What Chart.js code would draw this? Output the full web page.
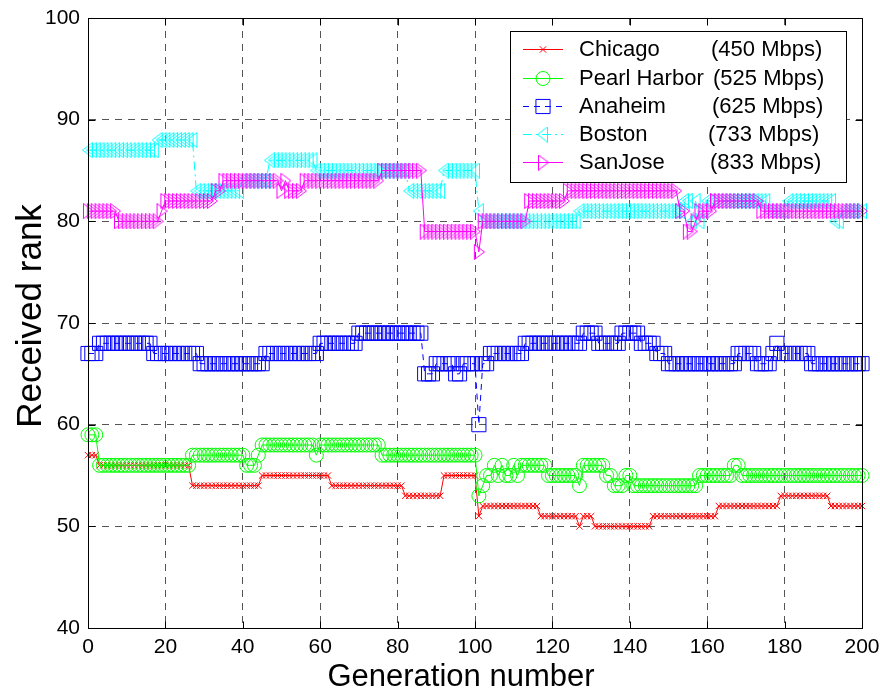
<!DOCTYPE html>
<html>
<head>
<meta charset="utf-8">
<script src="https://cdn.jsdelivr.net/npm/chart.js@4/dist/chart.umd.min.js"></script>
<style>
html, body { margin: 0; padding: 0; background: #fff; }
#wrap { width: 880px; height: 699px; }
</style>
</head>
<body>
<div id="wrap"><canvas id="rank_chart" width="880" height="699"></canvas></div>
<script>
// generation index on the x axis
var generations = [
    0, 1, 2, 3, 4, 5, 6, 7, 8, 9, 10, 11, 12, 13, 14, 15, 16, 17, 18, 19,
    20, 21, 22, 23, 24, 25, 26, 27, 28, 29, 30, 31, 32, 33, 34, 35, 36, 37, 38, 39,
    40, 41, 42, 43, 44, 45, 46, 47, 48, 49, 50, 51, 52, 53, 54, 55, 56, 57, 58, 59,
    60, 61, 62, 63, 64, 65, 66, 67, 68, 69, 70, 71, 72, 73, 74, 75, 76, 77, 78, 79,
    80, 81, 82, 83, 84, 85, 86, 87, 88, 89, 90, 91, 92, 93, 94, 95, 96, 97, 98, 99,
    100, 101, 102, 103, 104, 105, 106, 107, 108, 109, 110, 111, 112, 113, 114, 115, 116, 117, 118, 119,
    120, 121, 122, 123, 124, 125, 126, 127, 128, 129, 130, 131, 132, 133, 134, 135, 136, 137, 138, 139,
    140, 141, 142, 143, 144, 145, 146, 147, 148, 149, 150, 151, 152, 153, 154, 155, 156, 157, 158, 159,
    160, 161, 162, 163, 164, 165, 166, 167, 168, 169, 170, 171, 172, 173, 174, 175, 176, 177, 178, 179,
    180, 181, 182, 183, 184, 185, 186, 187, 188, 189, 190, 191, 192, 193, 194, 195, 196, 197, 198, 199,
    200
];

var chicagoRank = [
    57, 57, 57, 56, 56, 56, 56, 56, 56, 56, 56, 56, 56, 56, 56, 56, 56, 56, 56, 56,
    56, 56, 56, 56, 56, 56, 56, 54, 54, 54, 54, 54, 54, 54, 54, 54, 54, 54, 54, 54,
    54, 54, 54, 54, 54, 55, 55, 55, 55, 55, 55, 55, 55, 55, 55, 55, 55, 55, 55, 55,
    55, 55, 55, 54, 54, 54, 54, 54, 54, 54, 54, 54, 54, 54, 54, 54, 54, 54, 54, 54,
    54, 54, 53, 53, 53, 53, 53, 53, 53, 53, 53, 53, 55, 55, 55, 55, 55, 55, 55, 55,
    55, 51, 52, 52, 52, 52, 52, 52, 52, 52, 52, 52, 52, 52, 52, 52, 52, 51, 51, 51,
    51, 51, 51, 51, 51, 51, 51, 50, 51, 51, 51, 50, 50, 50, 50, 50, 50, 50, 50, 50,
    50, 50, 50, 50, 50, 50, 51, 51, 51, 51, 51, 51, 51, 51, 51, 51, 51, 51, 51, 51,
    51, 51, 51, 52, 52, 52, 52, 52, 52, 52, 52, 52, 52, 52, 52, 52, 52, 52, 52, 53,
    53, 53, 53, 53, 53, 53, 53, 53, 53, 53, 53, 53, 52, 52, 52, 52, 52, 52, 52, 52,
    52
];

var pearlHarborRank = [
    59, 59, 59, 56, 56, 56, 56, 56, 56, 56, 56, 56, 56, 56, 56, 56, 56, 56, 56, 56,
    56, 56, 56, 56, 56, 56, 56, 57, 57, 57, 57, 57, 57, 57, 57, 57, 57, 57, 57, 57,
    57, 56, 56, 56, 57, 58, 58, 58, 58, 58, 58, 58, 58, 58, 58, 58, 58, 58, 58, 57,
    58, 58, 58, 58, 58, 58, 58, 58, 58, 58, 58, 58, 58, 58, 58, 58, 57, 57, 57, 57,
    57, 57, 57, 57, 57, 57, 57, 57, 57, 57, 57, 57, 57, 57, 57, 57, 57, 57, 57, 57,
    57, 53, 54, 55, 55, 56, 55, 56, 55, 55, 56, 55, 56, 56, 56, 56, 56, 56, 56, 55,
    55, 55, 55, 55, 55, 55, 55, 54, 56, 56, 56, 56, 56, 56, 55, 55, 54, 54, 54, 55,
    55, 54, 54, 54, 54, 54, 54, 54, 54, 54, 54, 54, 54, 54, 54, 54, 54, 54, 55, 55,
    55, 55, 55, 55, 55, 55, 55, 56, 56, 55, 55, 55, 55, 55, 55, 55, 55, 55, 55, 55,
    55, 55, 55, 55, 55, 55, 55, 55, 55, 55, 55, 55, 55, 55, 55, 55, 55, 55, 55, 55,
    55
];

var anaheimRank = [
    67, 67, 67, 68, 68, 68, 68, 68, 68, 68, 68, 68, 68, 68, 68, 68, 68, 67, 67, 67,
    67, 67, 67, 67, 67, 67, 67, 67, 67, 66, 66, 66, 66, 66, 66, 66, 66, 66, 66, 66,
    66, 66, 66, 66, 66, 66, 67, 67, 67, 67, 67, 67, 67, 67, 67, 67, 67, 67, 67, 67,
    68, 68, 68, 68, 68, 68, 68, 68, 68, 68, 69, 69, 69, 69, 69, 69, 69, 69, 69, 69,
    69, 69, 69, 69, 69, 69, 69, 65, 65, 65, 66, 66, 66, 66, 66, 65, 65, 66, 66, 66,
    66, 60, 66, 66, 67, 67, 67, 67, 67, 67, 67, 67, 67, 68, 68, 68, 68, 68, 68, 68,
    68, 68, 68, 68, 68, 68, 68, 68, 69, 69, 69, 69, 68, 68, 68, 68, 68, 68, 69, 69,
    69, 69, 69, 68, 68, 68, 68, 67, 67, 67, 66, 66, 66, 66, 66, 66, 66, 66, 66, 66,
    66, 66, 66, 66, 66, 66, 66, 66, 67, 67, 67, 67, 67, 66, 66, 66, 66, 67, 68, 67,
    67, 67, 67, 67, 67, 67, 67, 66, 66, 66, 66, 66, 66, 66, 66, 66, 66, 66, 66, 66,
    66
];

var bostonRank = [
    87, 87, 87, 87, 87, 87, 87, 87, 87, 87, 87, 87, 87, 87, 87, 87, 87, 87, 88, 88,
    88, 88, 88, 88, 88, 88, 88, 88, 83, 83, 83, 83, 83, 83, 83, 83, 83, 83, 83, 83,
    84, 84, 84, 84, 84, 84, 84, 86, 86, 86, 86, 86, 86, 86, 86, 86, 86, 86, 86, 85,
    85, 85, 85, 85, 85, 85, 85, 85, 85, 85, 85, 85, 85, 85, 85, 85, 85, 85, 85, 85,
    85, 85, 85, 83, 83, 83, 83, 83, 83, 83, 83, 83, 85, 85, 85, 85, 85, 85, 85, 85,
    85, 81, 80, 80, 80, 80, 80, 80, 80, 80, 80, 80, 80, 80, 80, 80, 80, 80, 80, 80,
    80, 80, 80, 80, 80, 80, 80, 81, 81, 81, 81, 81, 81, 81, 81, 81, 81, 81, 81, 81,
    81, 81, 81, 81, 81, 81, 81, 81, 81, 81, 81, 81, 81, 81, 82, 82, 80, 82, 80, 81,
    82, 82, 82, 82, 82, 82, 82, 82, 82, 82, 82, 82, 82, 82, 82, 82, 81, 81, 81, 81,
    81, 82, 82, 82, 82, 82, 82, 82, 82, 82, 82, 82, 82, 80, 80, 81, 81, 81, 81, 81,
    81
];

var sanJoseRank = [
    81, 81, 81, 81, 81, 81, 81, 81, 80, 80, 80, 80, 80, 80, 80, 80, 80, 80, 80, 81,
    82, 82, 82, 82, 82, 82, 82, 82, 82, 82, 82, 82, 82, 83, 83, 84, 84, 84, 84, 84,
    84, 84, 84, 84, 84, 84, 84, 84, 84, 84, 83, 84, 83, 83, 83, 83, 84, 84, 84, 84,
    84, 84, 84, 84, 84, 84, 84, 84, 84, 84, 84, 84, 84, 84, 84, 84, 85, 85, 85, 85,
    85, 85, 85, 85, 85, 85, 85, 79, 79, 79, 79, 79, 79, 79, 79, 79, 79, 79, 79, 79,
    79, 77, 80, 80, 80, 80, 80, 80, 80, 80, 80, 80, 80, 80, 82, 82, 82, 82, 82, 82,
    82, 82, 82, 82, 83, 83, 83, 83, 83, 83, 83, 83, 83, 83, 83, 83, 83, 83, 83, 83,
    83, 83, 83, 83, 83, 83, 83, 83, 83, 83, 83, 83, 83, 81, 81, 79, 79, 80, 81, 81,
    81, 81, 82, 82, 82, 82, 82, 82, 82, 82, 82, 82, 82, 82, 81, 81, 81, 81, 81, 81,
    81, 81, 81, 81, 81, 81, 81, 81, 81, 81, 81, 81, 81, 81, 81, 81, 81, 81, 81, 81,
    81
];

var cityNames = ["Chicago", "Pearl Harbor", "Anaheim", "Boston", "SanJose"];
var cityRates = ["(450 Mbps)", "(525 Mbps)", "(625 Mbps)", "(733 Mbps)", "(833 Mbps)"];
var xTickValues = [0, 20, 40, 60, 80, 100, 120, 140, 160, 180, 200];
var yTickValues = [40, 50, 60, 70, 80, 90, 100];

var FONT = "'Liberation Sans', Arial, Helvetica, sans-serif";

function makeTriangle(color, pointsRight) {
    var c = document.createElement('canvas');
    c.width = 12;
    c.height = 16;
    var g = c.getContext('2d');
    g.strokeStyle = color;
    g.lineWidth = 1;
    g.beginPath();
    if (pointsRight) {
        g.moveTo(1.5, 0.5); g.lineTo(1.5, 15.5); g.lineTo(11.5, 8);
    } else {
        g.moveTo(10.5, 0.5); g.lineTo(10.5, 15.5); g.lineTo(0.5, 8);
    }
    g.closePath();
    g.stroke();
    return c;
}

var leftTriangle = makeTriangle('#00ffff', false);
var rightTriangle = makeTriangle('#ff00ff', true);

function toPoints(values) {
    var pts = [];
    for (var i = 0; i < values.length; i++) {
        pts.push({x: generations[i], y: values[i]});
    }
    return pts;
}

var seriesStyles = [
    {color: '#ff0000', marker: 'crossRot', radius: 4.5, dash: []},
    {color: '#00ff00', marker: 'circle', radius: 7, dash: []},
    {color: '#0000ff', marker: 'rect', radius: 10, dash: [6, 5]},
    {color: '#00ffff', marker: leftTriangle, radius: 7, dash: [9, 4, 2, 4]},
    {color: '#ff00ff', marker: rightTriangle, radius: 7, dash: []}
];
var seriesValues = [chicagoRank, pearlHarborRank, anaheimRank, bostonRank, sanJoseRank];

var datasets = [];
for (var s = 0; s < seriesValues.length; s++) {
    datasets.push({
        label: cityNames[s] + " " + cityRates[s],
        data: toPoints(seriesValues[s]),
        borderColor: seriesStyles[s].color,
        backgroundColor: 'rgba(0,0,0,0)',
        borderWidth: 1,
        borderDash: seriesStyles[s].dash,
        pointStyle: seriesStyles[s].marker,
        pointRadius: seriesStyles[s].radius,
        pointBorderColor: seriesStyles[s].color,
        pointBackgroundColor: 'rgba(0,0,0,0)',
        pointBorderWidth: 1,
        tension: 0,
        clip: false,
        order: seriesValues.length - s
    });
}

// box, inward ticks, axis titles and the legend, drawn like the matlab figure
var figureDecor = {
    id: 'figureDecor',
    afterDraw: function (chart) {
        var ctx = chart.ctx;
        var area = chart.chartArea;
        var xs = chart.scales.x, ys = chart.scales.y;
        var L = Math.round(area.left) + 0.5, R = Math.round(area.right) + 0.5;
        var T = Math.round(area.top) + 0.5, B = Math.round(area.bottom) + 0.5;
        ctx.save();
        ctx.strokeStyle = '#000';
        ctx.lineWidth = 1;
        ctx.setLineDash([]);
        ctx.strokeRect(L, T, R - L, B - T);
        ctx.beginPath();
        for (var i = 0; i < xTickValues.length; i++) {
            var px = Math.round(xs.getPixelForValue(xTickValues[i])) + 0.5;
            ctx.moveTo(px, B); ctx.lineTo(px, B - 7);
            ctx.moveTo(px, T); ctx.lineTo(px, T + 7);
        }
        for (var j = 0; j < yTickValues.length; j++) {
            var py = Math.round(ys.getPixelForValue(yTickValues[j])) + 0.5;
            ctx.moveTo(L, py); ctx.lineTo(L + 7, py);
            ctx.moveTo(R, py); ctx.lineTo(R - 7, py);
        }
        ctx.stroke();

        // axis titles
        ctx.fillStyle = '#000';
        ctx.textAlign = 'center';
        ctx.textBaseline = 'middle';
        ctx.font = '31px ' + FONT;
        ctx.fillText('Generation number', 461, 677);
        ctx.save();
        ctx.translate(31, 316);
        ctx.rotate(-Math.PI / 2);
        ctx.font = '35px ' + FONT;
        ctx.fillText('Received rank', 0, 0);
        ctx.restore();

        // legend
        ctx.fillStyle = '#fff';
        ctx.fillRect(510.5, 31.5, 336, 151);
        ctx.strokeStyle = '#000';
        ctx.strokeRect(510.5, 31.5, 336, 151);
        var rowY = [49, 78, 106, 134, 162];
        var rateX = [711, 713, 712, 708, 710];
        for (var k = 0; k < cityNames.length; k++) {
            var st = seriesStyles[k];
            ctx.strokeStyle = st.color;
            ctx.lineWidth = 1;
            ctx.setLineDash(st.dash);
            ctx.beginPath();
            ctx.moveTo(523, rowY[k] + 0.5);
            ctx.lineTo(563, rowY[k] + 0.5);
            ctx.stroke();
            ctx.setLineDash([]);
            ctx.fillStyle = 'rgba(0,0,0,0)';
            Chart.helpers.drawPoint(ctx, {
                pointStyle: st.marker, radius: st.radius, rotation: 0, borderWidth: 1
            }, 543, rowY[k] + 0.5);
            ctx.fillStyle = '#000';
            ctx.font = '22px ' + FONT;
            ctx.textAlign = 'left';
            ctx.textBaseline = 'middle';
            ctx.fillText(cityNames[k], 579, rowY[k] + 1);
            ctx.fillText(cityRates[k], rateX[k], rowY[k] + 1);
        }
        ctx.restore();
    }
};

var ctx = document.getElementById("rank_chart").getContext('2d');
var chart = new Chart(ctx, {
    type: 'line',
    data: {datasets: datasets},
    options: {
        responsive: false,
        animation: false,
        devicePixelRatio: 1,
        layout: {padding: {left: 0, right: 18, top: 18, bottom: 0}},
        plugins: {legend: {display: false}, tooltip: {enabled: false}},
        scales: {
            x: {
                type: 'linear',
                min: 0,
                max: 200,
                afterFit: function (scale) {
                    scale.height = 71;
                    scale.paddingLeft = 0;
                    scale.paddingRight = 0;
                },
                afterBuildTicks: function (scale) {
                    scale.ticks = xTickValues.map(function (v) { return {value: v}; });
                },
                ticks: {color: '#000', padding: 7, font: {family: FONT, size: 21}, maxRotation: 0},
                grid: {color: '#555', lineWidth: 1, drawTicks: false},
                border: {display: true, color: '#000', width: 1, dash: [7, 6]}
            },
            y: {
                type: 'linear',
                min: 40,
                max: 100,
                afterFit: function (scale) {
                    scale.width = 88;
                    scale.paddingTop = 0;
                    scale.paddingBottom = 0;
                },
                afterBuildTicks: function (scale) {
                    scale.ticks = yTickValues.map(function (v) { return {value: v}; });
                },
                ticks: {color: '#000', padding: 8, font: {family: FONT, size: 21}},
                grid: {color: '#555', lineWidth: 1, drawTicks: false},
                border: {display: true, color: '#000', width: 1, dash: [7, 6]}
            }
        }
    },
    plugins: [figureDecor]
});
</script>
</body>
</html>
